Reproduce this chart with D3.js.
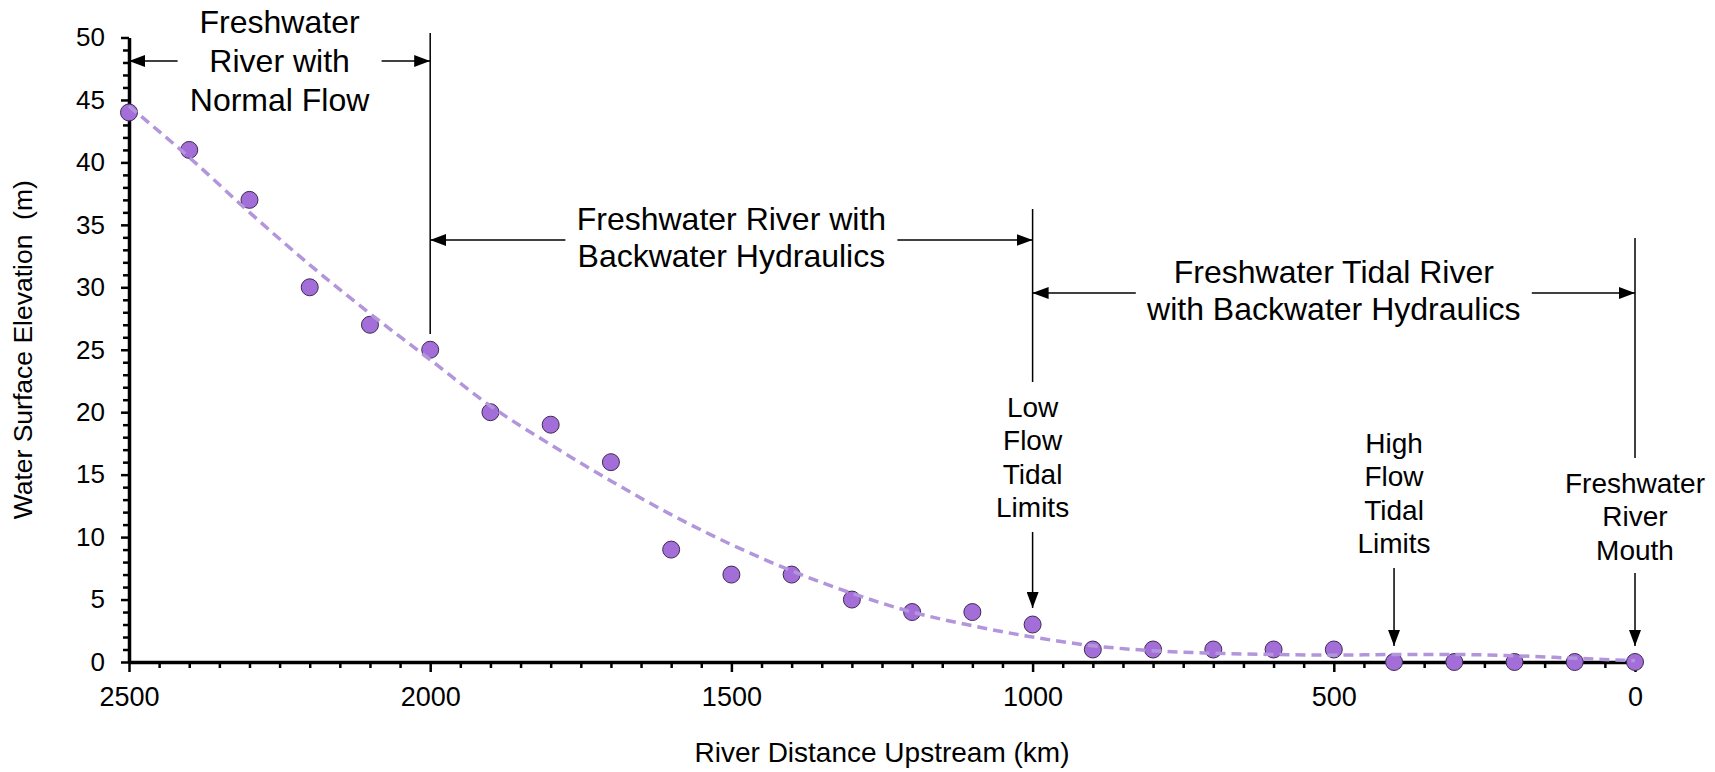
<!DOCTYPE html>
<html lang="en">
<head>
	<meta charset="UTF-8">
	<title>River profile</title>
	<script type="text/javascript" src="https://cdn.jsdelivr.net/npm/d3@7"></script>
</head>
<style>
	body { margin: 0; background: #fff; }
	text { font-family: "Liberation Sans", Arial, sans-serif; fill: #000; }
</style>
<body>
	<script type="text/javascript">
		var width = 1715;
		var height = 772;

		// data
		var distances = [2500, 2400, 2300, 2200, 2100, 2000, 1900, 1800, 1700, 1600, 1500, 1400, 1300,
		                 1200, 1100, 1000, 900, 800, 700, 600, 500, 400, 300, 200, 100, 0];
		var elevations = [44, 41, 37, 30, 27, 25, 20, 19, 16, 9, 7, 7, 5,
		                  4, 4, 3, 1, 1, 1, 1, 1, 0, 0, 0, 0, 0];
		// dashed trend line, read at the same distances
		var trendElevations = [44.5, 40.4, 36, 31.8, 27.9, 24.2, 20.5, 17.4, 14.5, 11.8, 9.4, 7.3, 5.5,
		                       4.0, 2.9, 2.0, 1.3, 0.9, 0.7, 0.6, 0.55, 0.6, 0.6, 0.5, 0.3, 0.1];
		var xTicks = [2500, 2000, 1500, 1000, 500, 0];
		var yTicks = [0, 5, 10, 15, 20, 25, 30, 35, 40, 45, 50];

		// reach labels (between two distances) and point labels (at one distance)
		var reachFrom = [2500, 2000, 1000];
		var reachTo = [2000, 1000, 0];
		var reachLabels = [
			["Freshwater", "River with", "Normal Flow"],
			["Freshwater River with", "Backwater Hydraulics"],
			["Freshwater Tidal River", "with Backwater Hydraulics"]
		];
		var markAt = [1000, 400, 0];
		var markLabels = [
			["Low", "Flow", "Tidal", "Limits"],
			["High", "Flow", "Tidal", "Limits"],
			["Freshwater", "River", "Mouth"]
		];

		var svg = d3.select('body')
					.append('svg')
					.attr('width', width)
					.attr('height', height)

		var x = d3.scaleLinear().domain([2500, 0]).range([129, 1635]);
		var y = d3.scaleLinear().domain([0, 50]).range([662, 37.5]);

		svg.append('defs').append('marker')
			.attr('id', 'arrow')
			.attr('markerUnits', 'userSpaceOnUse')
			.attr('markerWidth', 16)
			.attr('markerHeight', 12)
			.attr('refX', 16)
			.attr('refY', 6)
			.attr('orient', 'auto')
			.append('path')
			.attr('d', 'M0,0 L16,6 L0,12 Z')
			.attr('fill', '#000');

		// minor ticks
		var yMinor = d3.range(0, 51).filter(function(v){ return v % 5 != 0; });
		var xMinor = d3.range(0, 2501, 50).filter(function(v){ return v % 500 != 0; });

		var gyMinor = svg.append('g')
			.attr('transform', 'translate(' + x(2500) + ',0)')
			.call(d3.axisLeft(y).tickValues(yMinor).tickSize(6).tickFormat(''));
		gyMinor.select('.domain').remove();
		var gxMinor = svg.append('g')
			.attr('transform', 'translate(0,' + y(0) + ')')
			.call(d3.axisBottom(x).tickValues(xMinor).tickSize(6).tickFormat(''));
		gxMinor.select('.domain').remove();

		var gy = svg.append('g')
			.attr('transform', 'translate(' + x(2500) + ',0)')
			.call(d3.axisLeft(y).tickValues(yTicks).tickSize(8).tickSizeOuter(0).tickPadding(16));
		var gx = svg.append('g')
			.attr('transform', 'translate(0,' + y(0) + ')')
			.call(d3.axisBottom(x).tickValues(xTicks).tickFormat(d3.format('d'))
				.tickSize(10).tickSizeOuter(0).tickPadding(15));

		svg.selectAll('.tick line').attr('stroke', '#000').attr('stroke-width', 2.5);
		svg.selectAll('.domain').attr('stroke', '#000').attr('stroke-width', 3.5);
		gy.selectAll('text').attr('font-size', 26).attr('font-family', '"Liberation Sans", Arial, sans-serif');
		gx.selectAll('text').attr('font-size', 27).attr('font-family', '"Liberation Sans", Arial, sans-serif');

		// axis titles
		svg.append('text')
			.attr('transform', 'translate(32,' + ((y(0) + y(50)) / 2) + ') rotate(-90)')
			.attr('text-anchor', 'middle')
			.attr('font-size', 26.5)
			.attr('xml:space', 'preserve')
			.text('Water Surface Elevation  (m)');
		svg.append('text')
			.attr('x', (x(2500) + x(0)) / 2)
			.attr('y', 762)
			.attr('text-anchor', 'middle')
			.attr('font-size', 28)
			.text('River Distance Upstream (km)');

		// points
		var points = distances.map(function(d, i){ return [d, elevations[i]]; });
		svg.selectAll('circle')
		   .data(points)
		   .enter()
		   .append('circle')
		   .attr('cx', function(d){ return x(d[0]); })
		   .attr('cy', function(d){ return y(d[1]); })
		   .attr('r', 8.5)
		   .attr('fill', '#a46ed8')
		   .attr('stroke', '#3e2a55')
		   .attr('stroke-width', 1);

		// trend line (drawn over the points like Excel does)
		var trend = distances.map(function(d, i){ return [d, trendElevations[i]]; });
		var line = d3.line()
			.x(function(d){ return x(d[0]); })
			.y(function(d){ return y(d[1]); })
			.curve(d3.curveMonotoneX);
		svg.append('path')
			.datum(trend)
			.attr('d', line)
			.attr('fill', 'none')
			.attr('stroke', '#b395dc')
			.attr('stroke-width', 3.5)
			.attr('stroke-dasharray', '10,6');

		// reach annotations: label block, arrows out to the boundaries
		var reachArrowY = [61, 240, 293];
		var reachBase = [33, 230, 283];
		var reachLead = [39, 37, 37];
		var reachGap = [102, 166, 198];   // half width kept clear for the text

		// boundary lines at 2000, 1000, 0
		var boundAt = [2000, 1000, 0];
		var boundTop = [33, 209, 238];
		var boundBottom = [334, 382, 458];
		boundAt.forEach(function(d, i){
			svg.append('line')
				.attr('x1', x(d)).attr('x2', x(d))
				.attr('y1', boundTop[i]).attr('y2', boundBottom[i])
				.attr('stroke', '#000').attr('stroke-width', 1.5);
		});

		reachLabels.forEach(function(lines, i){
			var x0 = x(reachFrom[i]), x1 = x(reachTo[i]);
			var cx = (x0 + x1) / 2;
			var t = svg.append('text')
				.attr('text-anchor', 'middle')
				.attr('font-size', 32);
			lines.forEach(function(s, j){
				t.append('tspan').attr('x', cx).attr('y', reachBase[i] + j * reachLead[i]).text(s);
			});
			svg.append('line')
				.attr('x1', cx - reachGap[i]).attr('x2', x0)
				.attr('y1', reachArrowY[i]).attr('y2', reachArrowY[i])
				.attr('stroke', '#000').attr('stroke-width', 1.5)
				.attr('marker-end', 'url(#arrow)');
			svg.append('line')
				.attr('x1', cx + reachGap[i]).attr('x2', x1)
				.attr('y1', reachArrowY[i]).attr('y2', reachArrowY[i])
				.attr('stroke', '#000').attr('stroke-width', 1.5)
				.attr('marker-end', 'url(#arrow)');
		});

		// point annotations with down arrows
		var markBase = [417, 453, 493];
		var markArrowTop = [532, 568, 573];
		var markArrowTip = [608, 646, 646];
		markLabels.forEach(function(lines, i){
			var cx = x(markAt[i]);
			var t = svg.append('text')
				.attr('text-anchor', 'middle')
				.attr('font-size', 28);
			lines.forEach(function(s, j){
				t.append('tspan').attr('x', cx).attr('y', markBase[i] + j * 33.3).text(s);
			});
			svg.append('line')
				.attr('x1', cx).attr('x2', cx)
				.attr('y1', markArrowTop[i]).attr('y2', markArrowTip[i])
				.attr('stroke', '#000').attr('stroke-width', 1.5)
				.attr('marker-end', 'url(#arrow)');
		});
	</script>
</body>
</html>
